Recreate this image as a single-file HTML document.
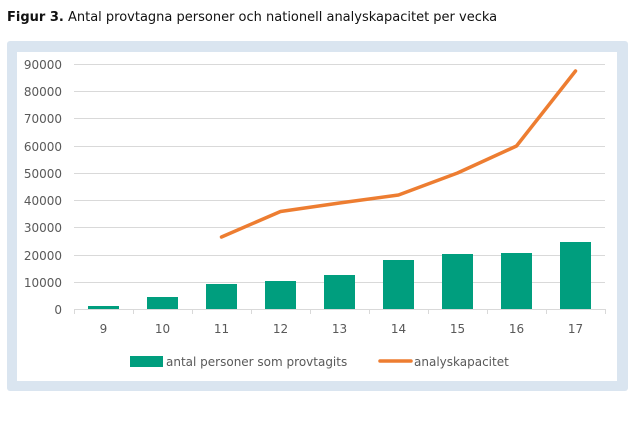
<!DOCTYPE html>
<html><head><style>
body{margin:0;background:#fff;width:640px;height:426px;overflow:hidden;font-family:"DejaVu Sans","Liberation Sans",sans-serif}
</style></head><body>
<svg width="640" height="426" xmlns="http://www.w3.org/2000/svg" font-family="DejaVu Sans, Liberation Sans, sans-serif">
<text x="7" y="21" font-size="13" fill="#111"><tspan font-weight="bold">Figur 3.</tspan> Antal provtagna personer och nationell analyskapacitet per vecka</text>
<rect x="7" y="41" width="621" height="350" rx="3" fill="#dae5f0"/>
<rect x="17" y="52" width="600" height="329" fill="#fff"/>
<g stroke="#d9d9d9" stroke-width="1">
<line x1="74" x2="605" y1="64.5" y2="64.5"/><line x1="74" x2="605" y1="91.5" y2="91.5"/>
<line x1="74" x2="605" y1="118.5" y2="118.5"/><line x1="74" x2="605" y1="146.5" y2="146.5"/>
<line x1="74" x2="605" y1="173.5" y2="173.5"/><line x1="74" x2="605" y1="200.5" y2="200.5"/>
<line x1="74" x2="605" y1="227.5" y2="227.5"/><line x1="74" x2="605" y1="255.5" y2="255.5"/>
<line x1="74" x2="605" y1="282.5" y2="282.5"/><line x1="74" x2="605" y1="309.5" y2="309.5"/>
<line x1="74.5" x2="74.5" y1="309" y2="314"/><line x1="133.5" x2="133.5" y1="309" y2="314"/>
<line x1="192.5" x2="192.5" y1="309" y2="314"/><line x1="251.5" x2="251.5" y1="309" y2="314"/>
<line x1="310.5" x2="310.5" y1="309" y2="314"/><line x1="369.5" x2="369.5" y1="309" y2="314"/>
<line x1="428.5" x2="428.5" y1="309" y2="314"/><line x1="487.5" x2="487.5" y1="309" y2="314"/>
<line x1="546.5" x2="546.5" y1="309" y2="314"/><line x1="605.5" x2="605.5" y1="309" y2="314"/>
</g>
<g font-size="12" fill="#595959" text-anchor="end">
<text x="62" y="69">90000</text><text x="62" y="96">80000</text><text x="62" y="123">70000</text>
<text x="62" y="151">60000</text><text x="62" y="178">50000</text><text x="62" y="205">40000</text>
<text x="62" y="232">30000</text><text x="62" y="260">20000</text><text x="62" y="287">10000</text>
<text x="62" y="314">0</text>
</g>
<g fill="#009e7e">
<rect x="88" y="306" width="31" height="3"/>
<rect x="147" y="297" width="31" height="12"/>
<rect x="206" y="284" width="31" height="25"/>
<rect x="265" y="281" width="31" height="28"/>
<rect x="324" y="275" width="31" height="34"/>
<rect x="383" y="260" width="31" height="49"/>
<rect x="442" y="254" width="31" height="55"/>
<rect x="501" y="253" width="31" height="56"/>
<rect x="560" y="242" width="31" height="67"/>
</g>
<polyline points="221.5,237 280.5,211.5 339.5,203 398.5,195 457.5,173 516.5,146 575.5,71" fill="none" stroke="#ed7d31" stroke-width="3.5" stroke-linejoin="round" stroke-linecap="round"/>
<g font-size="12" fill="#595959" text-anchor="middle">
<text x="103.5" y="333">9</text><text x="162.5" y="333">10</text><text x="221.5" y="333">11</text>
<text x="280.5" y="333">12</text><text x="339.5" y="333">13</text><text x="398.5" y="333">14</text>
<text x="457.5" y="333">15</text><text x="516.5" y="333">16</text><text x="575.5" y="333">17</text>
</g>
<rect x="130" y="356" width="33" height="11" fill="#009e7e"/>
<text x="166" y="366" font-size="12" fill="#595959">antal personer som provtagits</text>
<line x1="380" x2="411" y1="361" y2="361" stroke="#ed7d31" stroke-width="3.5" stroke-linecap="round"/>
<text x="414" y="366" font-size="12" fill="#595959">analyskapacitet</text>
</svg>
</body></html>
